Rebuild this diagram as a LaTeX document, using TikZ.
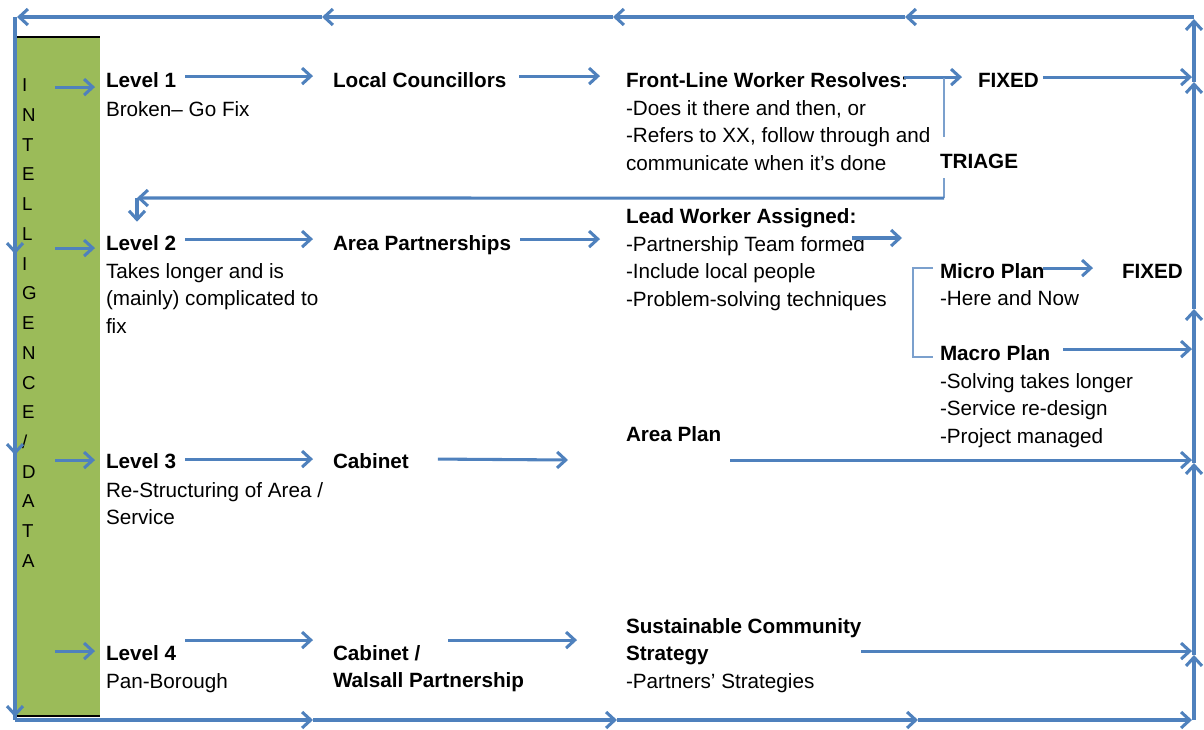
\documentclass[tikz,border=0pt]{standalone}
\usepackage{fontspec}
\setmainfont{Liberation Sans}
\usetikzlibrary{arrows.meta,calc}
\definecolor{lnblue}{HTML}{4F81BD}
\definecolor{barbg}{HTML}{9BBB59}
\begin{document}
\begin{tikzpicture}[x=0.75pt,y=-0.75pt,
  every node/.style={inner sep=0pt,outer sep=0pt},
  head/.style={anchor=base west,font=\fontsize{15.5}{20.6}\selectfont\bfseries,text height=11pt,text depth=0pt},
  body/.style={anchor=base west,font=\fontsize{15.5}{20.6}\selectfont,align=left},
  arr/.style={draw=lnblue,line width=2.3pt,-{Straight Barb[length=6.5pt,width=12pt]}},
  brk/.style={draw=lnblue!75,line width=1.4pt},
]
\useasboundingbox (0,0) rectangle (1204,729);

% green intelligence bar (base anchor = last line baseline)
\fill[barbg] (17,37) rectangle (100,717);
\draw[black,line width=1pt] (17,37) -- (100,37);
\draw[black,line width=1pt] (17,716) -- (100,716);
\node[anchor=base west,font=\fontsize{14}{22.3}\selectfont,align=left] (intel) at (22,567.4)
  {I\\N\\T\\E\\L\\L\\I\\G\\E\\N\\C\\E\\/\\D\\A\\T\\A};

% frame coordinates
\coordinate (tl) at (15,17);
\coordinate (tr) at (1194,17);
\coordinate (bl) at (15,720);
\coordinate (br) at (1194,720);
\coordinate (redge) at (1192,0);

% top (right to left)
\coordinate (t1) at (905,17);
\coordinate (t2) at (613,17);
\coordinate (t3) at (322,17);
\coordinate (t4) at (17,17);
\draw[arr] (tr) -- (t1);
\draw[arr] (t1) -- (t2);
\draw[arr] (t2) -- (t3);
\draw[arr] (t3) -- (t4);
% left (top to bottom)
\coordinate (lf1) at (15,254);
\coordinate (lf2) at (15,455);
\coordinate (lf3) at (15,717);
\draw[line width=2.3pt,draw=lnblue] (tl) -- (bl);
\draw[arr] (tl) -- (lf1);
\draw[arr] (lf1) -- (lf2);
\draw[arr] (lf2) -- (lf3);
% bottom (left to right)
\coordinate (b1) at (313,720);
\coordinate (b2) at (617,720);
\coordinate (b3) at (918,720);
\coordinate (b4) at (1192,720);
\draw[arr] (bl) -- (b1);
\draw[arr] (b1) -- (b2);
\draw[arr] (b2) -- (b3);
\draw[arr] (b3) -- (b4);
% right (bottom to top)
\coordinate (r1) at (1194,655);
\coordinate (r2) at (1194,463);
\coordinate (r3) at (1194,309);
\coordinate (r4) at (1194,82);
\coordinate (r5) at (1194,19);
\draw[arr] (br) -- (r1);
\draw[arr] (r1) -- (r2);
\draw[arr] (r2) -- (r3);
\draw[arr] (r3) -- (r4);
\draw[arr] (r4) -- (r5);

% ---- texts ----
\node[head] (l1) at (106,87.4) {Level 1};
\node[body] (l1b) at (106,116.4) {Broken-- Go Fix};
\node[head] (lc) at (333,87.4) {Local Councillors};
\node[head] (flw) at (626,87.4) {Front-Line Worker Resolves:};
\node[body] (flwb) at (626,170.3) {-Does it there and then, or\\-Refers to XX, follow through and\\communicate when it's done};
\node[head] (fx1) at (978,87.4) {FIXED};
\node[head] (tri) at (940,168.4) {TRIAGE};

\node[head] (l2) at (106,250.4) {Level 2};
\node[body] (l2b) at (106,333.3) {Takes longer and is\\(mainly) complicated to\\fix};
\node[head] (ap) at (333,250.4) {Area Partnerships};
\node[head] (lwa) at (626,223.4) {Lead Worker Assigned:};
\node[body] (lwab) at (626,306.3) {-Partnership Team formed\\-Include local people\\-Problem-solving techniques};
\node[head] (mip) at (940,278.4) {Micro Plan};
\node[body] (mipb) at (940,305.4) {-Here and Now};
\node[head] (fx2) at (1122,278.4) {FIXED};
\node[head] (map) at (940,360.4) {Macro Plan};
\node[body] (mapb) at (940,443.3) {-Solving takes longer\\-Service re-design\\-Project managed};
\node[head] (apl) at (626,441.4) {Area Plan};

\node[head] (l3) at (106,468.4) {Level 3};
\node[body] (l3b) at (106,524.9) {Re-Structuring of Area /\\Service};
\node[head] (cab) at (333,468.4) {Cabinet};

\node[head] (l4) at (106,660.4) {Level 4};
\node[body] (l4b) at (106,688.4) {Pan-Borough};
\node[head] (cw1) at (333,660.4) {Cabinet /};
\node[head] (cw2) at (333,687.4) {Walsall Partnership};
\node[head] (scs1) at (626,633.4) {Sustainable Community};
\node[head] (scs2) at (626,660.4) {Strategy};
\node[body] (scsb) at (626,688.4) {-Partners' Strategies};

% ---- small arrows from the bar ----
\draw[arr] ($(l1.west)+(-51,7)$) -- ($(l1.west)+(-11,7)$);
\draw[arr] ($(l2.west)+(-51,5)$) -- ($(l2.west)+(-11,5)$);
\draw[arr] ($(l3.west)+(-51,-1)$) -- ($(l3.west)+(-11,-1)$);
\draw[arr] ($(l4.west)+(-51,-2)$) -- ($(l4.west)+(-11,-2)$);

% ---- row 1 ----
\draw[arr] ($(l1.east)+(9,-4)$) -- ($(lc.west)+(-20,-4)$);
\draw[arr] ($(lc.east)+(13,-4)$) -- ($(flw.west)+(-26,-4)$);
\draw[arr] ($(flw.east)+(-4,-3)$) -- ($(fx1.west)+(-16,-3)$);
\draw[arr] ($(fx1.east)+(4,-3)$) coordinate (s1) -- (s1 -| redge);
% triage
\draw[brk] ($(tri.west)+(4,-83)$) -- ($(tri.west)+(4,-24)$);
\coordinate (trc) at ($(tri.west)+(4,37)$);
\coordinate (trl) at (137,198);
\draw[brk] ($(tri.west)+(4,17)$) -- (trc);
\draw[arr] (trc) -- (trl);
\draw[arr] (trl) -- ($(l2.north west)+(31,-14)$);

% ---- row 2 ----
\draw[arr] ($(l2.east)+(9,-4)$) -- ($(ap.west)+(-20,-4)$);
\draw[arr] ($(ap.east)+(9,-4)$) coordinate (s2) -- ($(s2 -| lwa.west)+(-26,0)$);
\coordinate (pa1) at (852,238);
\coordinate (pa2) at (902,238);
\draw[arr] (pa1) -- (pa2);
\draw[brk] ($(mip.west)+(-7,-3)$) -- ($(mip.west)+(-27,-3)$) -- ($(map.west)+(-27,4)$) -- ($(map.west)+(-7,4)$);
\draw[arr] ($(mip.east)+(-2,-3)$) -- ($(fx2.west)+(-29,-3)$);
\draw[arr] ($(map.east)+(13,-4)$) coordinate (s3) -- (s3 -| redge);

% ---- row 3 ----
\draw[arr] ($(l3.east)+(9,-2)$) -- ($(cab.west)+(-20,-2)$);
\coordinate (c3) at (568,460);
\draw[arr] ($(cab.east)+(29,-2)$) -- (c3);
\draw[arr] ($(apl.east)+(9,26)$) coordinate (s4) -- (s4 -| redge);

% ---- row 4 ----
\draw[arr] ($(l4.east)+(9,-13)$) -- ($(cw1.west)+(-20,-13)$);
\draw[arr] ($(cw1.east)+(28,-13)$) coordinate (s5) -- ($(s5 -| scs1.west)+(-49,0)$);
\draw[arr] ($(scs1.east |- scs2.east)+(0,-2)$) coordinate (s6) -- (s6 -| redge);
\end{tikzpicture}
\end{document}
